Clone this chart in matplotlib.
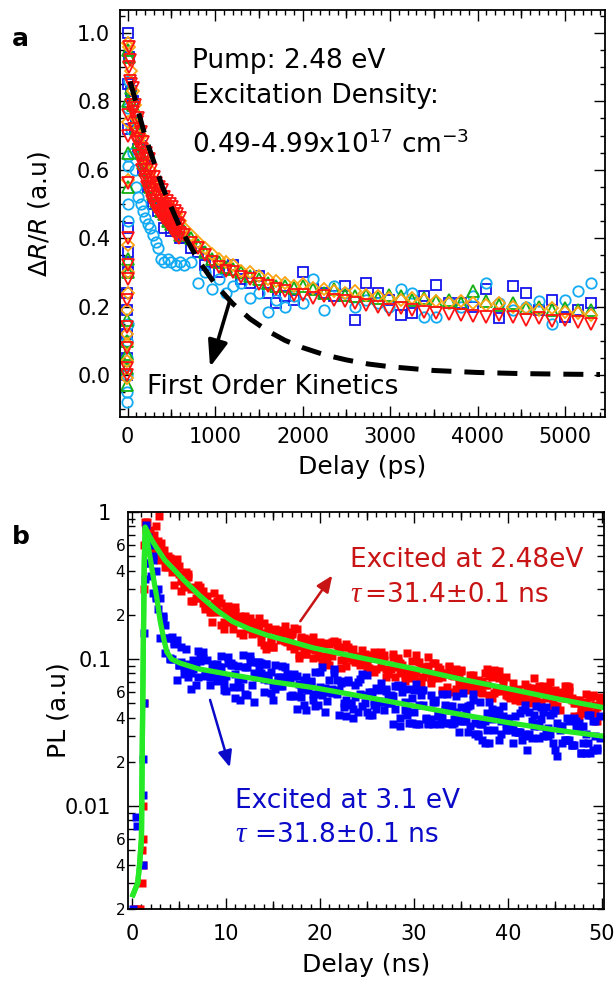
import numpy as np
import matplotlib
matplotlib.use("Agg")
import matplotlib.pyplot as plt
from matplotlib.ticker import MultipleLocator, FixedLocator, FuncFormatter, LogLocator

plt.rcParams['font.family'] = ['DejaVu Sans']
plt.rcParams['mathtext.fontset'] = 'dejavusans'

# ---------------- panel a : transient reflectance ----------------
TR_ZERO_PS = [-10, -8, -6, -4, -2, 0, 2, 4, 6, 8, 10]
TR_EARLY_PS = [20, 40, 60, 80, 100, 125, 150, 175, 200, 230, 260, 290, 320, 350, 380, 420, 460, 500, 550, 600]
TR_RED_EARLY_PS = [15, 30, 45, 60, 75, 90, 105, 120, 135, 150, 165, 180, 195, 210, 225, 240, 255, 270, 285, 300,
                   315, 330, 345, 360, 375, 390, 405, 420, 435, 450, 465, 480, 495, 510, 525, 540, 555, 570, 585, 600]
TR_LATE_PS = [640, 720, 800, 880, 960, 1040, 1120, 1200, 1300, 1400, 1500, 1600, 1700, 1800, 1900, 2000,
              2120, 2240, 2360, 2480, 2600, 2730, 2860, 2990, 3120, 3250, 3390, 3530, 3670, 3810, 3950,
              4100, 4250, 4400, 4550, 4700, 4850, 5000, 5150, 5300]

BLUE_ZERO = [0.0, 0.05, 0.12, 0.19, 0.24, 0.30, 0.36, 0.43, 0.72, 0.85, 1.0]
BLUE_EARLY = [0.93, 0.83, 0.80, 0.72, 0.74, 0.66, 0.67, 0.60, 0.62, 0.55, 0.56, 0.50, 0.52, 0.48, 0.49, 0.43, 0.45, 0.42, 0.44, 0.40]
BLUE_LATE = [0.40, 0.37, 0.36, 0.32, 0.33, 0.30, 0.31, 0.32, 0.28, 0.27, 0.29, 0.24, 0.21, 0.23, 0.22, 0.30,
             0.25, 0.24, 0.23, 0.26, 0.16, 0.27, 0.24, 0.22, 0.175, 0.18, 0.23, 0.263, 0.21, 0.21, 0.20,
             0.25, 0.165, 0.26, 0.24, 0.19, 0.22, 0.17, 0.19, 0.21]

CYAN_ZERO = [-0.08, -0.05, 0.0, 0.05, 0.10, 0.15, 0.45, 0.50, 0.61, 0.64, 0.78]
CYAN_EARLY = [0.86, 0.72, 0.65, 0.60, 0.55, 0.52, 0.50, 0.48, 0.46, 0.44, 0.43, 0.41, 0.39, 0.37, 0.34, 0.33, 0.34, 0.33, 0.32, 0.33]
CYAN_LATE = [0.32, 0.33, 0.27, 0.30, 0.25, 0.28, 0.24, 0.26, 0.27, 0.225, 0.24, 0.185, 0.22, 0.20, 0.23, 0.21,
             0.28, 0.19, 0.26, 0.24, 0.20, 0.22, 0.21, 0.20, 0.25, 0.24, 0.17, 0.17, 0.21, 0.20, 0.23,
             0.27, 0.21, 0.19, 0.20, 0.215, 0.15, 0.22, 0.245, 0.27]

GREEN_ZERO = [-0.03, 0.02, 0.06, 0.10, 0.16, 0.30, 0.34, 0.55, 0.65, 0.80, 0.95]
GREEN_EARLY = [0.93, 0.84, 0.79, 0.74, 0.72, 0.68, 0.65, 0.62, 0.60, 0.57, 0.55, 0.53, 0.51, 0.50, 0.48, 0.47, 0.45, 0.44, 0.43, 0.41]
GREEN_LATE = [0.42, 0.40, 0.38, 0.36, 0.34, 0.33, 0.315, 0.31, 0.30, 0.29, 0.28, 0.27, 0.26, 0.26, 0.255, 0.26,
              0.25, 0.24, 0.25, 0.235, 0.23, 0.235, 0.225, 0.235, 0.23, 0.22, 0.225, 0.215, 0.22, 0.21, 0.245,
              0.215, 0.205, 0.21, 0.195, 0.20, 0.19, 0.195, 0.19, 0.19]

ORANGE_ZERO = [-0.01, 0.04, 0.09, 0.12, 0.19, 0.24, 0.30, 0.38, 0.57, 0.74, 0.97]
ORANGE_EARLY = [0.96, 0.89, 0.83, 0.79, 0.76, 0.72, 0.70, 0.67, 0.64, 0.62, 0.60, 0.57, 0.56, 0.54, 0.53, 0.51, 0.50, 0.48, 0.47, 0.45]
ORANGE_LATE = [0.43, 0.41, 0.39, 0.37, 0.355, 0.34, 0.33, 0.32, 0.305, 0.30, 0.29, 0.28, 0.275, 0.27, 0.26, 0.265,
               0.255, 0.25, 0.245, 0.24, 0.245, 0.235, 0.23, 0.225, 0.22, 0.225, 0.22, 0.215, 0.21, 0.215, 0.21,
               0.205, 0.21, 0.20, 0.195, 0.19, 0.195, 0.185, 0.18, 0.175]

RED_ZERO = [0.0, 0.02, 0.08, 0.14, 0.22, 0.28, 0.32, 0.40, 0.56, 0.70, 0.76]
RED_EARLY = [0.96, 0.86, 0.85, 0.77, 0.78, 0.72, 0.74, 0.68, 0.69, 0.64, 0.66, 0.61, 0.63, 0.58, 0.60, 0.56, 0.58, 0.54, 0.56, 0.52,
             0.54, 0.50, 0.52, 0.49, 0.51, 0.48, 0.50, 0.47, 0.485, 0.46, 0.475, 0.45, 0.465, 0.44, 0.455, 0.43, 0.445, 0.425, 0.435, 0.415]
RED_EARLY_SCAN2 = [0.90, 0.92, 0.79, 0.84, 0.72, 0.79, 0.68, 0.75, 0.64, 0.71, 0.60, 0.68, 0.57, 0.65, 0.55, 0.63, 0.53, 0.60, 0.51, 0.58,
                   0.49, 0.56, 0.48, 0.55, 0.47, 0.54, 0.46, 0.52, 0.45, 0.51, 0.44, 0.50, 0.43, 0.49, 0.42, 0.48, 0.41, 0.47, 0.40, 0.46]
RED_LATE = [0.41, 0.385, 0.37, 0.35, 0.33, 0.315, 0.305, 0.30, 0.285, 0.28, 0.265, 0.26, 0.25, 0.245, 0.235, 0.235,
            0.225, 0.23, 0.22, 0.215, 0.21, 0.205, 0.20, 0.19, 0.195, 0.19, 0.185, 0.18, 0.178, 0.175, 0.172,
            0.17, 0.175, 0.168, 0.16, 0.165, 0.158, 0.162, 0.155, 0.15]

FIRST_ORDER_PS = [30, 200, 400, 600, 800, 1000, 1200, 1400, 1600, 1800, 2000, 2250, 2500, 2750, 3000, 3500, 4000, 4500, 5000, 5400]
FIRST_ORDER_V = [0.858, 0.699, 0.549, 0.431, 0.339, 0.266, 0.209, 0.164, 0.129, 0.101, 0.080, 0.059, 0.044, 0.032,
                 0.024, 0.013, 0.0072, 0.0039, 0.0022, 0.0013]

# ---------------- panel b : photoluminescence ----------------
PL_DELAY_NS = [1.5, 1.75,
    2.0, 2.25, 2.5, 2.75, 3.0, 3.25, 3.5, 3.75, 4.0, 4.25, 4.5, 4.75, 5.0, 5.25, 5.5, 5.75,
    6.0, 6.25, 6.5, 6.75, 7.0, 7.25, 7.5, 7.75, 8.0, 8.25, 8.5, 8.75, 9.0, 9.25, 9.5, 9.75,
    10.0, 10.25, 10.5, 10.75, 11.0, 11.25, 11.5, 11.75, 12.0, 12.25, 12.5, 12.75, 13.0, 13.25, 13.5, 13.75,
    14.0, 14.25, 14.5, 14.75, 15.0, 15.25, 15.5, 15.75, 16.0, 16.25, 16.5, 16.75, 17.0, 17.25, 17.5, 17.75,
    18.0, 18.25, 18.5, 18.75, 19.0, 19.25, 19.5, 19.75, 20.0, 20.25, 20.5, 20.75, 21.0, 21.25, 21.5, 21.75,
    22.0, 22.25, 22.5, 22.75, 23.0, 23.25, 23.5, 23.75, 24.0, 24.25, 24.5, 24.75, 25.0, 25.25, 25.5, 25.75,
    26.0, 26.25, 26.5, 26.75, 27.0, 27.25, 27.5, 27.75, 28.0, 28.25, 28.5, 28.75, 29.0, 29.25, 29.5, 29.75,
    30.0, 30.25, 30.5, 30.75, 31.0, 31.25, 31.5, 31.75, 32.0, 32.25, 32.5, 32.75, 33.0, 33.25, 33.5, 33.75,
    34.0, 34.25, 34.5, 34.75, 35.0, 35.25, 35.5, 35.75, 36.0, 36.25, 36.5, 36.75, 37.0, 37.25, 37.5, 37.75,
    38.0, 38.25, 38.5, 38.75, 39.0, 39.25, 39.5, 39.75, 40.0, 40.25, 40.5, 40.75, 41.0, 41.25, 41.5, 41.75,
    42.0, 42.25, 42.5, 42.75, 43.0, 43.25, 43.5, 43.75, 44.0, 44.25, 44.5, 44.75, 45.0, 45.25, 45.5, 45.75,
    46.0, 46.25, 46.5, 46.75, 47.0, 47.25, 47.5, 47.75, 48.0, 48.25, 48.5, 48.75, 49.0, 49.25, 49.5, 49.75]

PL_RED = [0.76, 0.63,
    0.65, 0.55, 0.59, 0.64, 0.47, 0.52, 0.48, 0.43, 0.44, 0.46, 0.46, 0.42, 0.43, 0.34, 0.31, 0.32,
    0.36, 0.30, 0.31, 0.26, 0.28, 0.26, 0.24, 0.23, 0.27, 0.22, 0.21, 0.24, 0.25, 0.21, 0.17, 0.18,
    0.22, 0.21, 0.18, 0.16, 0.21, 0.19, 0.15, 0.18, 0.19, 0.16, 0.19, 0.18, 0.15, 0.17, 0.16, 0.13,
    0.125, 0.15, 0.16, 0.13, 0.12, 0.16, 0.15, 0.134, 0.158, 0.132, 0.130, 0.135, 0.152, 0.118, 0.122, 0.107,
    0.137, 0.140, 0.108, 0.128, 0.119, 0.101, 0.125, 0.107, 0.131, 0.122, 0.105, 0.096, 0.127, 0.131, 0.130, 0.124,
    0.116, 0.099, 0.121, 0.090, 0.101, 0.104, 0.118, 0.095, 0.105, 0.097, 0.099, 0.092, 0.088, 0.087, 0.107, 0.082,
    0.102, 0.105, 0.111, 0.106, 0.086, 0.082, 0.091, 0.103, 0.076, 0.101, 0.094, 0.091, 0.078, 0.084, 0.079, 0.097,
    0.078, 0.081, 0.071, 0.089, 0.088, 0.081, 0.090, 0.069, 0.094, 0.076, 0.089, 0.077, 0.076, 0.081, 0.065, 0.089,
    0.078, 0.077, 0.063, 0.076, 0.083, 0.067, 0.066, 0.069, 0.063, 0.078, 0.065, 0.072, 0.067, 0.071, 0.080, 0.067,
    0.057, 0.076, 0.059, 0.061, 0.074, 0.064, 0.073, 0.057, 0.056, 0.056, 0.069, 0.061, 0.063, 0.052, 0.056, 0.068,
    0.059, 0.052, 0.050, 0.054, 0.064, 0.049, 0.051, 0.066, 0.054, 0.063, 0.057, 0.051, 0.048, 0.048, 0.045, 0.055,
    0.054, 0.054, 0.061, 0.054, 0.050, 0.050, 0.053, 0.046, 0.046, 0.058, 0.048, 0.055, 0.056, 0.049, 0.047, 0.055]

PL_RED_SCAN2 = [0.78, 0.61,
    0.64, 0.55, 0.49, 0.51, 0.54, 0.53, 0.42, 0.42, 0.49, 0.39, 0.32, 0.48, 0.38, 0.29, 0.33, 0.39,
    0.38, 0.25, 0.25, 0.30, 0.32, 0.31, 0.29, 0.22, 0.23, 0.21, 0.18, 0.28, 0.23, 0.26, 0.24, 0.16,
    0.22, 0.23, 0.19, 0.20, 0.225, 0.19, 0.195, 0.145, 0.197, 0.185, 0.167, 0.148, 0.177, 0.167, 0.191, 0.146,
    0.176, 0.118, 0.164, 0.134, 0.121, 0.158, 0.150, 0.148, 0.154, 0.169, 0.150, 0.123, 0.148, 0.163, 0.160, 0.102,
    0.142, 0.116, 0.109, 0.118, 0.137, 0.142, 0.115, 0.127, 0.104, 0.099, 0.092, 0.129, 0.091, 0.105, 0.132, 0.131,
    0.113, 0.087, 0.100, 0.126, 0.120, 0.109, 0.098, 0.101, 0.096, 0.091, 0.115, 0.109, 0.097, 0.084, 0.101, 0.111,
    0.086, 0.108, 0.089, 0.098, 0.075, 0.079, 0.086, 0.109, 0.088, 0.097, 0.080, 0.083, 0.071, 0.110, 0.074, 0.077,
    0.077, 0.107, 0.096, 0.068, 0.075, 0.081, 0.103, 0.073, 0.079, 0.094, 0.074, 0.085, 0.062, 0.080, 0.079, 0.090,
    0.078, 0.060, 0.085, 0.069, 0.084, 0.065, 0.062, 0.065, 0.078, 0.069, 0.069, 0.060, 0.062, 0.059, 0.067, 0.086,
    0.077, 0.054, 0.084, 0.083, 0.083, 0.061, 0.067, 0.076, 0.060, 0.054, 0.061, 0.053, 0.058, 0.055, 0.054, 0.054,
    0.065, 0.064, 0.061, 0.074, 0.052, 0.066, 0.059, 0.046, 0.059, 0.058, 0.070, 0.049, 0.062, 0.056, 0.056, 0.060,
    0.066, 0.066, 0.065, 0.053, 0.041, 0.053, 0.041, 0.043, 0.043, 0.051, 0.044, 0.055, 0.057, 0.043, 0.038, 0.051]

PL_BLUE = [0.62, 0.68,
    0.37, 0.50, 0.26, 0.30, 0.14, 0.19, 0.11, 0.14, 0.10, 0.10, 0.13, 0.072, 0.091, 0.096, 0.079, 0.083,
    0.093, 0.081, 0.098, 0.067, 0.076, 0.108, 0.101, 0.082, 0.098, 0.067, 0.076, 0.085, 0.071, 0.089, 0.089, 0.069,
    0.077, 0.104, 0.091, 0.091, 0.079, 0.090, 0.065, 0.073, 0.088, 0.057, 0.098, 0.067, 0.080, 0.096, 0.095, 0.094,
    0.073, 0.093, 0.072, 0.082, 0.067, 0.091, 0.075, 0.075, 0.090, 0.074, 0.079, 0.073, 0.057, 0.077, 0.077, 0.056,
    0.063, 0.049, 0.075, 0.070, 0.070, 0.058, 0.048, 0.058, 0.065, 0.057, 0.064, 0.060, 0.072, 0.063, 0.080, 0.058,
    0.062, 0.069, 0.047, 0.053, 0.072, 0.050, 0.046, 0.067, 0.070, 0.058, 0.048, 0.057, 0.044, 0.060, 0.060, 0.052,
    0.046, 0.062, 0.051, 0.045, 0.061, 0.050, 0.057, 0.056, 0.046, 0.067, 0.040, 0.066, 0.045, 0.042, 0.037, 0.037,
    0.044, 0.036, 0.049, 0.062, 0.062, 0.040, 0.037, 0.057, 0.036, 0.053, 0.044, 0.036, 0.040, 0.045, 0.058, 0.048,
    0.048, 0.037, 0.056, 0.032, 0.041, 0.038, 0.043, 0.048, 0.035, 0.053, 0.031, 0.030, 0.036, 0.036, 0.038, 0.033,
    0.051, 0.039, 0.033, 0.041, 0.028, 0.038, 0.048, 0.037, 0.040, 0.033, 0.027, 0.041, 0.032, 0.043, 0.028, 0.031,
    0.030, 0.031, 0.029, 0.042, 0.037, 0.029, 0.039, 0.044, 0.032, 0.030, 0.031, 0.043, 0.024, 0.037, 0.035, 0.027,
    0.028, 0.028, 0.038, 0.026, 0.040, 0.038, 0.037, 0.023, 0.035, 0.031, 0.027, 0.023, 0.038, 0.030, 0.025, 0.029]

PL_BLUE_SCAN2 = [0.81, 0.45,
    0.60, 0.28, 0.27, 0.22, 0.26, 0.195, 0.17, 0.14, 0.102, 0.142, 0.126, 0.135, 0.091, 0.121, 0.089, 0.118,
    0.076, 0.063, 0.086, 0.092, 0.114, 0.097, 0.112, 0.077, 0.081, 0.076, 0.093, 0.086, 0.092, 0.074, 0.105, 0.062,
    0.061, 0.094, 0.094, 0.065, 0.054, 0.070, 0.053, 0.107, 0.058, 0.089, 0.105, 0.096, 0.051, 0.075, 0.086, 0.080,
    0.060, 0.092, 0.078, 0.059, 0.053, 0.063, 0.071, 0.066, 0.066, 0.088, 0.075, 0.056, 0.056, 0.079, 0.046, 0.068,
    0.055, 0.072, 0.045, 0.062, 0.071, 0.053, 0.082, 0.049, 0.082, 0.089, 0.044, 0.052, 0.060, 0.059, 0.086, 0.072,
    0.042, 0.071, 0.050, 0.041, 0.070, 0.049, 0.040, 0.055, 0.044, 0.073, 0.079, 0.050, 0.078, 0.042, 0.042, 0.049,
    0.064, 0.052, 0.069, 0.051, 0.063, 0.054, 0.050, 0.036, 0.066, 0.066, 0.035, 0.060, 0.051, 0.045, 0.063, 0.054,
    0.062, 0.068, 0.036, 0.057, 0.049, 0.039, 0.036, 0.039, 0.051, 0.051, 0.041, 0.041, 0.058, 0.049, 0.037, 0.037,
    0.036, 0.039, 0.044, 0.038, 0.047, 0.059, 0.038, 0.032, 0.049, 0.058, 0.037, 0.031, 0.051, 0.028, 0.027, 0.043,
    0.027, 0.046, 0.042, 0.042, 0.045, 0.031, 0.041, 0.033, 0.037, 0.035, 0.035, 0.032, 0.032, 0.032, 0.045, 0.049,
    0.024, 0.044, 0.038, 0.035, 0.048, 0.035, 0.047, 0.030, 0.047, 0.034, 0.042, 0.027, 0.045, 0.022, 0.033, 0.035,
    0.028, 0.040, 0.028, 0.026, 0.026, 0.034, 0.034, 0.023, 0.027, 0.023, 0.042, 0.042, 0.024, 0.038, 0.024, 0.041]

PL_RED_EXTRA_NS = [0.2, 0.5, 0.8, 1.1, 1.2, 1.1, 1.2, 1.2, 1.25, 1.3, 1.3, 1.35, 1.6, 1.9, 2.3, 2.6, 2.9, 3.1, 3.4, 3.8, 4.2, 4.6]
PL_RED_EXTRA = [0.002, 0.002, 0.002, 0.003, 0.004, 0.005, 0.006, 0.01, 0.05, 0.3, 0.6, 0.85, 0.85, 0.75, 0.70, 0.80, 0.94, 0.62, 0.55, 0.50, 0.47, 0.43]
PL_BLUE_EXTRA_NS = [0.1, 0.4, 0.5, 1.2, 1.2, 1.2, 1.25, 1.3, 1.35, 1.5, 2.2, 2.5]
PL_BLUE_EXTRA = [0.002, 0.0085, 0.0073, 0.004, 0.012, 0.021, 0.05, 0.15, 0.35, 0.45, 0.47, 0.40]

FIT_RED_NS = [0.1, 0.6, 0.8, 1.0, 1.1, 1.2, 1.3, 1.4, 1.6, 2.0, 2.7, 3.5, 4.4, 5.5, 7.2, 9.0, 10.7, 12.5, 14.4, 17.0, 19.3, 25, 30, 35, 40, 45, 50]
FIT_RED = [0.0025, 0.003, 0.004, 0.006, 0.03, 0.12, 0.45, 0.79, 0.74, 0.66, 0.56, 0.47, 0.41, 0.345, 0.27, 0.215, 0.18, 0.16, 0.145, 0.131, 0.119, 0.10, 0.086, 0.073, 0.063, 0.054, 0.047]
FIT_BLUE_NS = [0.1, 0.6, 0.8, 1.0, 1.1, 1.2, 1.3, 1.4, 1.6, 1.9, 2.2, 2.6, 3.0, 3.4, 3.7, 4.2, 5.1, 7.0, 10.7, 15, 19.3, 25, 30, 35, 40, 45, 50]
FIT_BLUE = [0.0025, 0.003, 0.004, 0.006, 0.03, 0.12, 0.45, 0.77, 0.65, 0.50, 0.38, 0.27, 0.18, 0.135, 0.112, 0.10, 0.094, 0.086, 0.078, 0.070, 0.064, 0.055, 0.048, 0.042, 0.037, 0.033, 0.030]

# half-decade tick positions (Igor-style medium ticks)
MID_TICKS_PS = [500, 1500, 2500, 3500, 4500]
MID_TICKS_NS = [5, 15, 25, 35, 45]

W, H = 616, 986
fig = plt.figure(figsize=(W / 100, H / 100), dpi=100)


def fx(x):
    return x / W


def fy(y):
    return 1 - y / H


# ---------- panel a ----------
ax1 = fig.add_axes([fx(120), fy(417), (605 - 120) / W, (417 - 10) / H])
series = [
    (BLUE_ZERO, [TR_EARLY_PS], [BLUE_EARLY], BLUE_LATE, 's', '#1414ee', 7.0),
    (CYAN_ZERO, [TR_EARLY_PS], [CYAN_EARLY], CYAN_LATE, 'o', '#12aaf2', 7.5),
    (GREEN_ZERO, [TR_EARLY_PS], [GREEN_EARLY], GREEN_LATE, '^', '#12b012', 8.0),
    (ORANGE_ZERO, [TR_EARLY_PS], [ORANGE_EARLY], ORANGE_LATE, 'D', '#ffa312', 6.5),
    (RED_ZERO, [TR_RED_EARLY_PS, TR_RED_EARLY_PS], [RED_EARLY, RED_EARLY_SCAN2], RED_LATE, 'v', '#ff1212', 8.0),
]
for zero, early_ts, earlies, late, mk, col, ms in series:
    xs = list(TR_ZERO_PS)
    ys = list(zero)
    for et, ev in zip(early_ts, earlies):
        xs += list(et)
        ys += list(ev)
    xs += list(TR_LATE_PS)
    ys += list(late)
    ax1.plot(xs, ys, linestyle='none', marker=mk, ms=ms, mfc='none', mec=col, mew=1.3)

ax1.plot(FIRST_ORDER_PS, FIRST_ORDER_V, color='black', lw=3.6, dashes=(4, 2.6))
ax1.annotate('', xy=(943, 0.023), xytext=(1171, 0.219),
             arrowprops=dict(arrowstyle='-|>,head_length=0.8,head_width=0.3', color='black',
                             lw=2.6, mutation_scale=20, shrinkA=0, shrinkB=0))

ax1.set_xlim(-86, 5457)
ax1.set_ylim(-0.123, 1.067)
ax1.xaxis.set_major_locator(MultipleLocator(1000))
ax1.xaxis.set_minor_locator(MultipleLocator(100))
ax1.yaxis.set_major_locator(MultipleLocator(0.2))
ax1.yaxis.set_minor_locator(MultipleLocator(0.05))
ax1.yaxis.set_major_formatter(FuncFormatter(lambda v, p: f'{v:.1f}'))
ax1.set_xlabel('Delay (ps)', fontsize=18)
ax1.set_ylabel(r'$\Delta\mathit{R/R}$ (a.u)', fontsize=18)
ax1.xaxis.set_label_coords(0.5, -0.093)
ax1.yaxis.set_label_coords(-0.14, 0.5)

# ---------- panel b ----------
ax2 = fig.add_axes([fx(128), fy(909), (604 - 128) / W, (909 - 512) / H])
sq = dict(linestyle='none', marker='s', ms=5.2, mec='none')
ax2.plot(PL_RED_EXTRA_NS, PL_RED_EXTRA, mfc='#ff0000', **sq)
ax2.plot(PL_DELAY_NS, PL_RED, mfc='#ff0000', **sq)
ax2.plot(PL_DELAY_NS, PL_RED_SCAN2, mfc='#ff0000', **sq)
ax2.plot(PL_BLUE_EXTRA_NS, PL_BLUE_EXTRA, mfc='#0000ff', **sq)
ax2.plot(PL_DELAY_NS, PL_BLUE, mfc='#0000ff', **sq)
ax2.plot(PL_DELAY_NS, PL_BLUE_SCAN2, mfc='#0000ff', **sq)
ax2.plot(FIT_RED_NS, FIT_RED, color='#26ea26', lw=3.8, solid_joinstyle='round')
ax2.plot(FIT_BLUE_NS, FIT_BLUE, color='#26ea26', lw=3.8, solid_joinstyle='round')

ax2.set_yscale('log')
ax2.set_xlim(-0.43, 50.2)
ax2.set_ylim(0.002, 1.0)
ax2.xaxis.set_major_locator(MultipleLocator(10))
ax2.xaxis.set_minor_locator(MultipleLocator(1))
ax2.yaxis.set_major_locator(FixedLocator([0.01, 0.1, 1.0]))
ax2.yaxis.set_major_formatter(FuncFormatter(lambda v, p: {0.01: '0.01', 0.1: '0.1', 1.0: '1'}.get(round(v, 4), '')))
ax2.yaxis.set_minor_locator(LogLocator(base=10, subs=(2, 3, 4, 5, 6, 7, 8, 9), numticks=30))


def minor_fmt(v, p):
    e = np.floor(np.log10(v) + 1e-9)
    m = int(round(v / 10 ** e))
    return str(m) if m in (2, 4, 6) else ''


ax2.yaxis.set_minor_formatter(FuncFormatter(minor_fmt))
ax2.set_xlabel('Delay (ns)', fontsize=18)
ax2.set_ylabel('PL (a.u)', fontsize=18)
ax2.xaxis.set_label_coords(0.5, -0.111)
ax2.yaxis.set_label_coords(-0.12, 0.5)

for ax in (ax1, ax2):
    for s in ax.spines.values():
        s.set_linewidth(1.3)
    ax.tick_params(which='both', direction='in', top=True, right=True, width=1.0, labelsize=15)
    ax.tick_params(which='major', length=8)
    ax.tick_params(which='minor', length=3.5)
ax1.tick_params(which='major', pad=7)
ax2.tick_params(axis='x', which='major', pad=11)
ax2.tick_params(axis='y', which='major', pad=12)
ax2.tick_params(axis='y', which='minor', length=5, pad=2, labelsize=11)

# medium-length ticks at half intervals, bottom and top
for ax, mids in ((ax1, MID_TICKS_PS), (ax2, MID_TICKS_NS)):
    for loc in ('bottom', 'top'):
        sec = ax.secondary_xaxis(loc)
        sec.set_xticks(mids)
        sec.tick_params(direction='in', length=6, width=1.0, labelbottom=False, labeltop=False)
        sec.spines[loc].set_visible(False)

# ---------- text ----------
fig.text(fx(12), fy(46), 'a', fontsize=18, fontweight='bold', va='baseline')
fig.text(fx(12), fy(544), 'b', fontsize=18, fontweight='bold', va='baseline')

fig.text(fx(192), fy(68), 'Pump: 2.48 eV', fontsize=19, va='baseline')
fig.text(fx(192), fy(103), 'Excitation Density:', fontsize=19, va='baseline')
fig.text(fx(192), fy(153), r'0.49-4.99x10$^{17}$ cm$^{-3}$', fontsize=19, va='baseline')
fig.text(fx(147), fy(394), 'First Order Kinetics', fontsize=19, va='baseline')

RED_TXT = '#c81414'
BLUE_TXT = '#0a0ac8'
fig.text(fx(350), fy(567), 'Excited at 2.48eV', fontsize=19, color=RED_TXT, va='baseline')
fig.text(fx(350), fy(602), '\u03c4', fontsize=21, color=RED_TXT, va='baseline',
         family='Liberation Serif', style='italic')
fig.text(fx(365), fy(602), '=31.4\u00b10.1 ns', fontsize=19, color=RED_TXT, va='baseline')
fig.text(fx(235), fy(808), 'Excited at 3.1 eV', fontsize=19, color=BLUE_TXT, va='baseline')
fig.text(fx(235), fy(842), '\u03c4', fontsize=21, color=BLUE_TXT, va='baseline',
         family='Liberation Serif', style='italic')
fig.text(fx(255), fy(842), '=31.8\u00b10.1 ns', fontsize=19, color=BLUE_TXT, va='baseline')

ax2.annotate('', xy=(21.3, 0.37), xytext=(17.9, 0.181),
             arrowprops=dict(arrowstyle='-|>,head_length=0.7,head_width=0.3', color=RED_TXT,
                             lw=1.8, mutation_scale=14, shrinkA=0, shrinkB=0))
ax2.annotate('', xy=(10.4, 0.0184), xytext=(8.3, 0.0528),
             arrowprops=dict(arrowstyle='-|>,head_length=0.7,head_width=0.3', color=BLUE_TXT,
                             lw=1.8, mutation_scale=14, shrinkA=0, shrinkB=0))

fig.savefig('out.png', dpi=100)
